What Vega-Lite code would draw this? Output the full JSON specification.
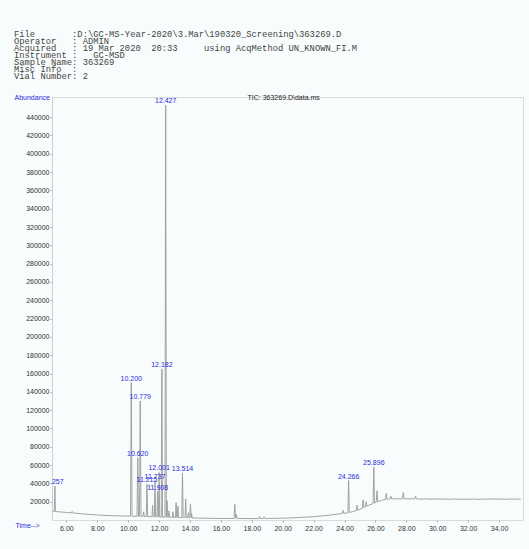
{
  "$schema": "https://vega.github.io/schema/vega-lite/v6.json",
  "autosize": "none",
  "width": 471,
  "height": 423,
  "padding": {"left": 52, "top": 97, "right": 6, "bottom": 29},
  "background": "#f8fcfc",
  "title": {
    "text": [
      "File\u00a0\u00a0\u00a0\u00a0\u00a0\u00a0\u00a0:D:\\GC-MS-Year-2020\\3.Mar\\190320_Screening\\363269.D",
      "Operator\u00a0\u00a0\u00a0:\u00a0ADMIN",
      "Acquired\u00a0\u00a0\u00a0:\u00a019\u00a0Mar\u00a02020\u00a0\u00a020:33\u00a0\u00a0\u00a0\u00a0\u00a0using\u00a0AcqMethod\u00a0UN_KNOWN_FI.M",
      "Instrument\u00a0:\u00a0\u00a0\u00a0GC-MSD",
      "Sample\u00a0Name:\u00a0363269",
      "Misc\u00a0Info\u00a0\u00a0:",
      "Vial\u00a0Number:\u00a02"
    ],
    "anchor": "start",
    "frame": "group",
    "font": "Liberation Mono",
    "fontSize": 8.8,
    "lineHeight": 7.1,
    "fontWeight": "normal",
    "color": "#444",
    "dx": -38,
    "offset": 12
  },
  "datasets": {
    "tic": [
      {"t":5.10,"v":9700},{"t":5.22,"v":9300},{"t":5.257,"v":37000},{"t":5.29,"v":9200},{"t":5.6,"v":8800},{"t":6.0,"v":8300},{"t":6.33,"v":7700},{"t":6.38,"v":9300},{"t":6.43,"v":7600},{"t":7.0,"v":6800},{"t":7.5,"v":6100},{"t":8.0,"v":5500},{"t":8.5,"v":5000},{"t":9.0,"v":4700},{"t":9.5,"v":4500},{"t":9.95,"v":4300},
      {"t":10.15,"v":4200},{"t":10.2,"v":150000},{"t":10.25,"v":4200},{"t":10.57,"v":4000},{"t":10.62,"v":68000},{"t":10.67,"v":4000},{"t":10.73,"v":4000},{"t":10.779,"v":130000},{"t":10.83,"v":3900},{"t":10.96,"v":3900},{"t":11.0,"v":9000},{"t":11.04,"v":3800},{"t":11.17,"v":3800},{"t":11.215,"v":39000},{"t":11.26,"v":3700},{"t":11.54,"v":3600},{"t":11.58,"v":16000},{"t":11.62,"v":3500},{"t":11.69,"v":3500},{"t":11.737,"v":43000},{"t":11.78,"v":3400},{"t":11.86,"v":3400},{"t":11.908,"v":31000},{"t":11.95,"v":3300},{"t":11.96,"v":3300},{"t":12.001,"v":52000},{"t":12.04,"v":3200},{"t":12.14,"v":3200},{"t":12.182,"v":165000},{"t":12.22,"v":3100},{"t":12.38,"v":3100},{"t":12.427,"v":453000},{"t":12.47,"v":3000},{"t":12.48,"v":3000},{"t":12.52,"v":21000},{"t":12.56,"v":3000},{"t":12.6,"v":3000},{"t":12.64,"v":10000},{"t":12.68,"v":2900},{"t":12.86,"v":2900},{"t":12.9,"v":9000},{"t":12.94,"v":2800},{"t":13.06,"v":2800},{"t":13.1,"v":19000},{"t":13.14,"v":2800},{"t":13.18,"v":2800},{"t":13.22,"v":15000},{"t":13.26,"v":2700},{"t":13.47,"v":2700},{"t":13.514,"v":51000},{"t":13.56,"v":2600},{"t":13.68,"v":2600},{"t":13.72,"v":23000},{"t":13.76,"v":2600},{"t":13.86,"v":2500},{"t":13.9,"v":8000},{"t":13.94,"v":2500},{"t":13.98,"v":2500},{"t":14.03,"v":17000},{"t":14.08,"v":2400},{"t":14.1,"v":7000},{"t":14.14,"v":2300},{"t":14.5,"v":2100},{"t":15.0,"v":1900},{"t":15.5,"v":1800},{"t":16.0,"v":1700},{"t":16.5,"v":1700},{"t":16.85,"v":1700},{"t":16.9,"v":17000},{"t":16.95,"v":1800},{"t":17.0,"v":6000},{"t":17.05,"v":1700},{"t":17.5,"v":1600},{"t":18.0,"v":1600},{"t":18.45,"v":1600},{"t":18.5,"v":4000},{"t":18.55,"v":1600},{"t":18.75,"v":1700},{"t":18.8,"v":3500},{"t":18.85,"v":1700},{"t":19.5,"v":1800},{"t":20.0,"v":2000},{"t":20.5,"v":2300},{"t":21.0,"v":2700},{"t":21.5,"v":3100},{"t":22.0,"v":3700},{"t":22.5,"v":4400},{"t":23.0,"v":5300},{"t":23.5,"v":6300},{"t":23.85,"v":7200},{"t":23.9,"v":10500},{"t":23.95,"v":7300},{"t":24.22,"v":7900},{"t":24.266,"v":43000},{"t":24.31,"v":8200},{"t":24.5,"v":9000},{"t":24.75,"v":10200},{"t":24.8,"v":16000},{"t":24.85,"v":10600},{"t":25.0,"v":11700},{"t":25.15,"v":12800},{"t":25.2,"v":22000},{"t":25.25,"v":13500},{"t":25.35,"v":14300},{"t":25.4,"v":20000},{"t":25.45,"v":15000},{"t":25.6,"v":16300},{"t":25.85,"v":18000},{"t":25.896,"v":58000},{"t":25.94,"v":18500},{"t":26.05,"v":19400},{"t":26.1,"v":32000},{"t":26.15,"v":19900},{"t":26.4,"v":21500},{"t":26.65,"v":22500},{"t":26.7,"v":29000},{"t":26.75,"v":22700},{"t":26.95,"v":23000},{"t":27.0,"v":26000},{"t":27.05,"v":23000},{"t":27.3,"v":23300},{"t":27.6,"v":23000},{"t":27.75,"v":23200},{"t":27.8,"v":30000},{"t":27.85,"v":23300},{"t":28.1,"v":23000},{"t":28.4,"v":23300},{"t":28.55,"v":23000},{"t":28.6,"v":26000},{"t":28.65,"v":23000},{"t":29.0,"v":22800},{"t":29.3,"v":23200},{"t":29.6,"v":22700},{"t":29.9,"v":23100},{"t":30.2,"v":22700},{"t":30.5,"v":23000},{"t":30.8,"v":22600},{"t":31.1,"v":23000},{"t":31.4,"v":22500},{"t":31.7,"v":22900},{"t":32.0,"v":22600},{"t":32.3,"v":23000},{"t":32.6,"v":22500},{"t":32.9,"v":22900},{"t":33.2,"v":22700},{"t":33.5,"v":23100},{"t":33.8,"v":22700},{"t":34.1,"v":23000},{"t":34.4,"v":22600},{"t":34.7,"v":22900},{"t":35.0,"v":22800},{"t":35.4,"v":22900}
    ],
    "peaks": [
      {"t":5.257,"v":37000,"lab":"5.257"},
      {"t":10.2,"v":150000,"lab":"10.200"},
      {"t":10.62,"v":68000,"lab":"10.620"},
      {"t":10.779,"v":130000,"lab":"10.779"},
      {"t":11.215,"v":39000,"lab":"11.215"},
      {"t":11.737,"v":43000,"lab":"11.737"},
      {"t":11.908,"v":31000,"lab":"11.908"},
      {"t":12.001,"v":52000,"lab":"12.001"},
      {"t":12.182,"v":165000,"lab":"12.182"},
      {"t":12.427,"v":453000,"lab":"12.427"},
      {"t":13.514,"v":51000,"lab":"13.514"},
      {"t":24.266,"v":43000,"lab":"24.266"},
      {"t":25.896,"v":58000,"lab":"25.896"}
    ]
  },
  "layer": [
    {
      "data": {"name": "tic"},
      "mark": {"type": "line", "color": "#9a9a9a", "strokeWidth": 0.9, "clip": true},
      "encoding": {
        "x": {"field": "t", "type": "quantitative", "scale": {"domain": [5.07, 35.55], "nice": false, "zero": false},
          "axis": {"orient": "bottom", "values": [6,8,10,12,14,16,18,20,22,24,26,28,30,32,34], "format": ".2f", "domain": false, "tickSize": 2, "labelPadding": 2, "labelOverlap": false,
            "title": "Time-->", "titleAnchor": "start", "titleAlign": "left", "titleX": -37, "titleY": 5, "titleBaseline": "middle", "titleColor": "#2a2ae0", "titleFontSize": 7, "titleFontWeight": "normal", "titleFont": "Liberation Sans"}},
        "y": {"field": "v", "type": "quantitative", "scale": {"domain": [0, 462000], "nice": false},
          "axis": {"values": [20000,40000,60000,80000,100000,120000,140000,160000,180000,200000,220000,240000,260000,280000,300000,320000,340000,360000,380000,400000,420000,440000], "format": "d", "tickSize": 2, "labelPadding": 1, "labelOverlap": false, "labelSeparation": 0,
            "title": "Abundance", "titleAngle": 0, "titleAlign": "left", "titleBaseline": "middle", "titleX": -38, "titleY": 0, "titleColor": "#2a2ae0", "titleFontSize": 7, "titleFontWeight": "normal", "titleFont": "Liberation Sans"}}
      }
    },
    {
      "data": {"name": "peaks"},
      "mark": {"type": "text", "color": "#2a2ae0", "font": "Liberation Sans", "fontSize": 7, "baseline": "bottom", "dy": -1, "clip": true},
      "encoding": {
        "x": {"field": "t", "type": "quantitative",
          "axis": {"orient": "top", "labels": false, "ticks": false, "domain": false, "title": "TIC: 363269.D\\data.ms", "titleAnchor": "start", "titleAlign": "left", "titleBaseline": "middle", "titleX": 195, "titleY": 0, "titleFontSize": 7, "titleFontWeight": "normal", "titleFont": "Liberation Sans", "titleColor": "#222"}},
        "y": {"field": "v", "type": "quantitative", "axis": null},
        "text": {"field": "lab"}
      }
    }
  ],
  "resolve": {"axis": {"x": "independent", "y": "independent"}},
  "config": {
    "axis": {"grid": false, "labelFont": "Liberation Sans", "labelFontSize": 7, "labelColor": "#333", "domainColor": "#cfcfcf", "tickColor": "#aaa"},
    "axisY": {"labelOverlap": false},
    "view": {"stroke": "#dcdcdc"}
  }
}
